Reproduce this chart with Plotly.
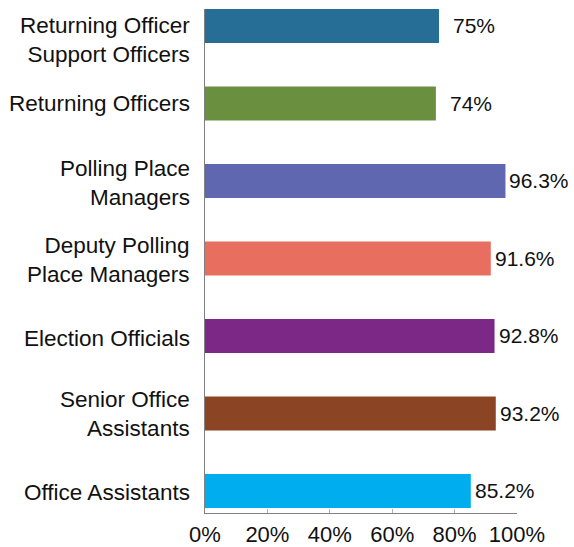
import plotly.graph_objects as go

# Staff categories, listed bottom to top as drawn
categories = [
    "Office Assistants",
    "Senior Office<br>Assistants",
    "Election Officials",
    "Deputy Polling<br>Place Managers",
    "Polling Place<br>Managers",
    "Returning Officers",
    "Returning Officer<br>Support Officers",
]
values = [85.2, 93.2, 92.8, 91.6, 96.3, 74, 75]
value_labels = ["85.2%", "93.2%", "92.8%", "91.6%", "96.3%", "74%", "75%"]
x_ticks = [0, 20, 40, 60, 80, 100]
x_tick_labels = ["0%", "20%", "40%", "60%", "80%", "100%"]

colors = ["#00aeef", "#8b4424", "#7b2886", "#e86e5f", "#5f67b0", "#6a8f3e", "#266e96"]
value_label_shift = [2, 2, 2, 2, 2, 12, 12]
# vertical nudge (px) of each category label relative to its bar centre
cat_label_shift = [-2, -1, -3, -2, -2, 0, -14]

FONT = "Liberation Sans, Arial, sans-serif"

fig = go.Figure(
    go.Bar(
        x=values,
        y=categories,
        orientation="h",
        marker=dict(color=colors, line=dict(width=0)),
        width=0.44,
        hoverinfo="skip",
    )
)

for cat, val, lab, shift in zip(categories, values, value_labels, value_label_shift):
    fig.add_annotation(
        x=val, y=cat, text=lab, showarrow=False,
        xanchor="left", yanchor="middle", xshift=shift,
        font=dict(family=FONT, size=21, color="#111111"),
    )

# category labels, right-aligned against the y axis
for cat, dy in zip(categories, cat_label_shift):
    fig.add_annotation(
        x=0, xref="paper", y=cat, text=cat, showarrow=False,
        xanchor="right", yanchor="middle", align="right",
        xshift=-13, yshift=dy,
        font=dict(family=FONT, size=22.5, color="#111111"),
    )

fig.update_layout(
    width=574, height=547,
    margin=dict(l=205, r=57, t=9, b=34),
    paper_bgcolor="white", plot_bgcolor="white",
    showlegend=False,
    font=dict(family=FONT, size=21, color="#111111"),
    xaxis=dict(
        range=[0, 100], tickvals=x_ticks, ticktext=x_tick_labels,
        automargin=False,
        showgrid=False, zeroline=False,
        showline=True, linecolor="#808080", linewidth=1,
        ticks="inside", ticklen=4, tickcolor="#b0b0b0",
        ticklabelstandoff=2,
        tickfont=dict(family=FONT, size=22, color="#111111"),
    ),
    yaxis=dict(
        type="category", categoryorder="array", categoryarray=categories,
        range=[-0.284, 6.219],
        automargin=False,
        showgrid=False, zeroline=False,
        showline=True, linecolor="#808080", linewidth=1,
        ticks="", showticklabels=False,
    ),
)

fig.write_html("out.html")
